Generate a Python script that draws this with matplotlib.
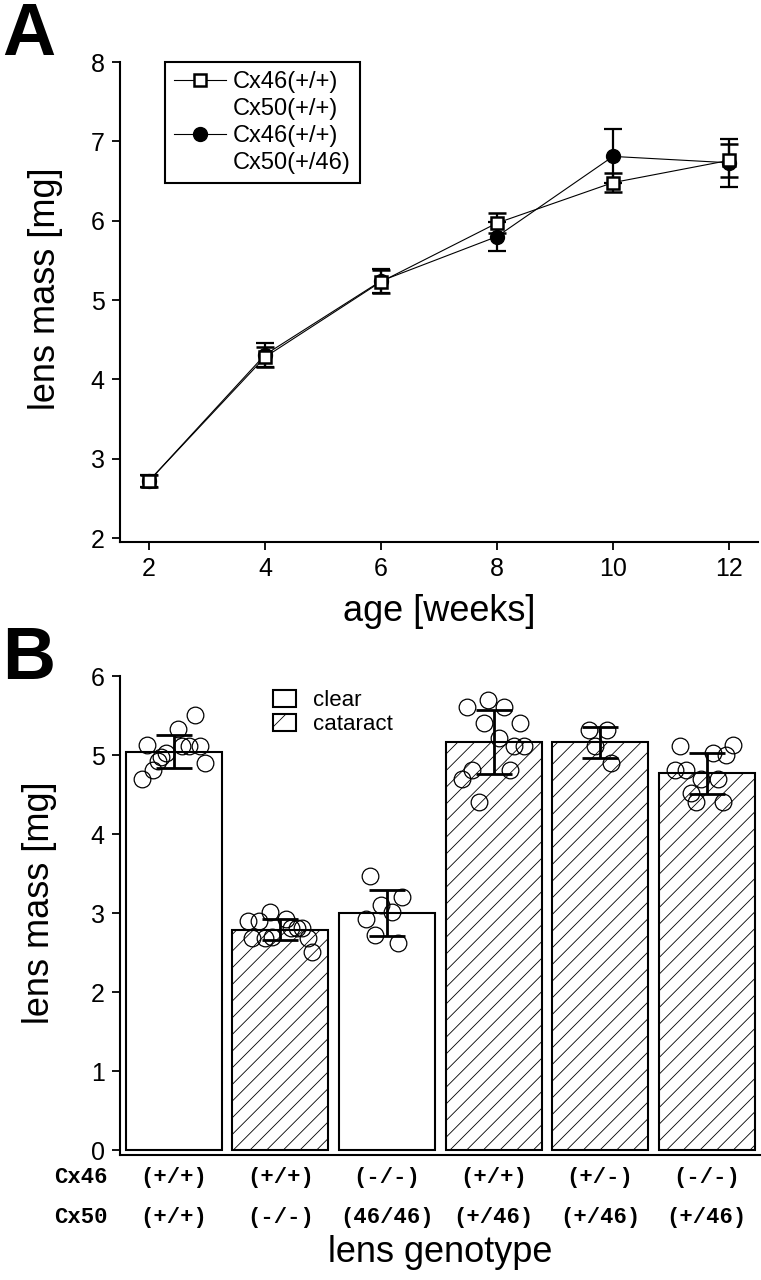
import matplotlib
matplotlib.use('Agg')
import matplotlib.pyplot as plt
from matplotlib.lines import Line2D
from matplotlib.patches import Rectangle

plt.rcParams['font.family'] = ['Liberation Sans', 'DejaVu Sans']
plt.rcParams['hatch.linewidth'] = 0.6

# panel A: lens mass vs age
weeks = [2, 4, 6, 8, 10, 12]
wt_mass = [2.72, 4.28, 5.23, 5.97, 6.48, 6.76]
wt_err = [0.08, 0.13, 0.145, 0.13, 0.12, 0.21]
ki_mass = [2.72, 4.31, 5.24, 5.80, 6.81, 6.73]
ki_err = [0.08, 0.15, 0.15, 0.18, 0.34, 0.30]

# panel B: lens mass by genotype
cx46 = ['(+/+)', '(+/+)', '(-/-)', '(+/+)', '(+/-)', '(-/-)']
cx50 = ['(+/+)', '(-/-)', '(46/46)', '(+/46)', '(+/46)', '(+/46)']
bar_mean = [5.04, 2.79, 3.00, 5.16, 5.16, 4.77]
bar_err = [0.21, 0.13, 0.29, 0.405, 0.195, 0.26]
cataract = [False, True, False, True, True, True]

pts_val = [
    [5.51, 5.33, 5.13, 5.11, 5.11, 5.11, 5.02, 4.97, 4.92, 4.81, 4.70, 4.90],
    [2.90, 2.90, 3.02, 2.92, 2.69, 2.69, 2.70, 2.81, 2.81, 2.81, 2.69, 2.51],
    [3.47, 3.21, 3.10, 3.02, 2.93, 2.72, 2.62],
    [5.61, 5.70, 5.61, 5.41, 5.41, 5.21, 5.11, 5.11, 4.81, 4.70, 4.81, 4.41],
    [5.32, 5.32, 5.11, 4.90],
    [5.11, 5.02, 5.00, 5.13, 4.81, 4.81, 4.70, 4.70, 4.52, 4.41, 4.41],
]
pts_jit = [
    [0.20, 0.04, -0.25, 0.075, 0.14, 0.25, -0.07, -0.12, -0.15, -0.20, -0.30, 0.29],
    [-0.30, -0.20, -0.10, 0.05, -0.27, -0.14, -0.08, 0.095, 0.16, 0.20, 0.26, 0.30],
    [-0.155, 0.14, -0.06, 0.05, -0.20, -0.11, 0.10],
    [-0.25, -0.055, 0.10, -0.09, 0.25, 0.055, 0.19, 0.29, -0.20, -0.30, 0.15, -0.14],
    [-0.10, 0.06, -0.05, 0.10],
    [-0.25, 0.06, 0.18, 0.25, -0.30, -0.19, -0.05, 0.105, -0.15, -0.10, 0.15],
]

W, H = 761, 1280
fig = plt.figure(figsize=(W / 100, H / 100), dpi=100)


def style(ax):
    for s in ['top', 'right']:
        ax.spines[s].set_visible(False)
    for s in ['left', 'bottom']:
        ax.spines[s].set_linewidth(1.5)
    ax.tick_params(width=1.3, length=6, labelsize=18, pad=5)


# ---- A ----
axA = fig.add_axes([120 / W, 1 - 542 / H, 638 / W, 480 / H])
style(axA)
axA.errorbar(weeks, ki_mass, yerr=ki_err, fmt='-o', color='black', lw=0.8,
             ms=10, mfc='black', mec='black', ecolor='black', elinewidth=1.6,
             capsize=6.5, capthick=1.6, zorder=2)
axA.errorbar(weeks, wt_mass, yerr=wt_err, fmt='-s', color='black', lw=0.8,
             ms=8, mfc='white', mec='black', mew=1.8, ecolor='black',
             elinewidth=1.6, capsize=6.5, capthick=1.6, zorder=3)
axA.set_xlim(1.5, 12.5)
axA.set_ylim(1.95, 8)
axA.set_xticks(weeks)
axA.set_yticks(range(2, 9))
axA.set_xlabel('age [weeks]', fontsize=26)
axA.xaxis.set_label_coords(0.5, -0.108)
axA.set_ylabel('lens mass [mg]', fontsize=26)
axA.yaxis.set_label_coords(-0.09, 0.527)

hA = [Line2D([], [], color='black', lw=0.8, marker='s', ms=8, mfc='white', mec='black', mew=1.8),
      Line2D([], [], ls='none'),
      Line2D([], [], color='black', lw=0.8, marker='o', ms=10, mfc='black', mec='black'),
      Line2D([], [], ls='none')]
lA = ['Cx46(+/+)', 'Cx50(+/+)', 'Cx46(+/+)', 'Cx50(+/46)']
leg = axA.legend(hA, lA, loc='upper left', bbox_to_anchor=(0.07, 1.0),
                 borderaxespad=0, fontsize=17, frameon=True, fancybox=False,
                 edgecolor='black', framealpha=1, handlelength=2.2,
                 handletextpad=0.3, labelspacing=0.2, borderpad=0.4)
leg.get_frame().set_linewidth(1.5)

# ---- B ----
axB = fig.add_axes([120 / W, 1 - 1155 / H, 640 / W, 479 / H])
style(axB)
pos = list(range(len(bar_mean)))
for i in pos:
    axB.bar(i, bar_mean[i], width=0.9, color='white', edgecolor='black',
            lw=1.5, hatch='//' if cataract[i] else None, zorder=1)
    axB.plot([i + d for d in pts_jit[i]], pts_val[i], 'o', ms=12,
             mfc='none', mec='black', mew=0.9, zorder=2)
axB.errorbar(pos, bar_mean, yerr=bar_err, fmt='none', ecolor='black',
             elinewidth=2, capsize=13, capthick=2, zorder=3)
axB.set_xlim(-0.505, 5.5)
axB.set_ylim(-0.06, 6)
axB.set_yticks(range(0, 7))
axB.set_xticks([])
axB.set_ylabel('lens mass [mg]', fontsize=26)
axB.yaxis.set_label_coords(-0.098, 0.527)
axB.set_xlabel('lens genotype', fontsize=26)
axB.xaxis.set_label_coords(0.5, -0.168)

mono = dict(family=['Liberation Mono', 'DejaVu Sans Mono'], fontweight='bold',
            fontsize=16, ha='center', va='center')
tr = axB.get_xaxis_transform()
for i in pos:
    axB.text(i, -0.046, cx46[i], transform=tr, **mono)
    axB.text(i, -0.1315, cx50[i], transform=tr, **mono)
mono['ha'] = 'right'
axB.text(-0.019, -0.046, 'Cx46', transform=axB.transAxes, **mono)
axB.text(-0.019, -0.1315, 'Cx50', transform=axB.transAxes, **mono)

hB = [Rectangle((0, 0), 1, 1, facecolor='white', edgecolor='black', lw=1.5),
      Rectangle((0, 0), 1, 1, facecolor='white', edgecolor='black', lw=1.5, hatch='/')]
axB.legend(hB, ['clear', 'cataract'], loc='upper left', bbox_to_anchor=(0.225, 0.99),
           borderaxespad=0, frameon=False, fontsize=16, handlelength=1.05,
           handleheight=0.8, handletextpad=0.75, labelspacing=0.15)

fig.text(0.003, 1 - 55 / H, 'A', fontsize=53, fontweight='bold', va='baseline')
fig.text(0.003, 1 - 679 / H, 'B', fontsize=53, fontweight='bold', va='baseline')

fig.savefig('out.png', dpi=100)
